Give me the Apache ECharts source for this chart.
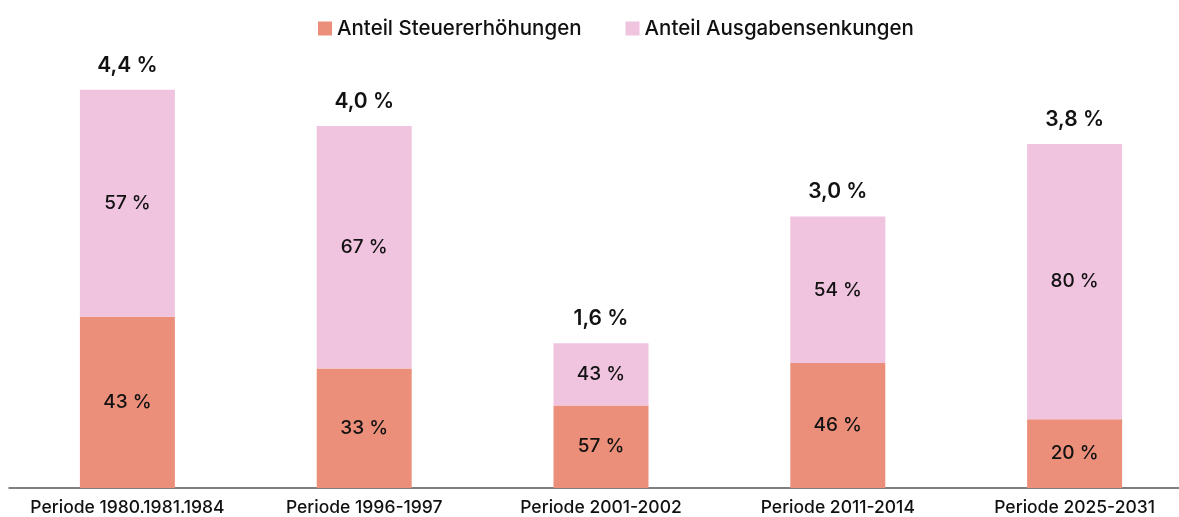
<!DOCTYPE html>
<html>
<head>
<meta charset="utf-8">
<script src="https://cdn.jsdelivr.net/npm/echarts@6/dist/echarts.min.js"></script>
<style>
  html, body { margin: 0; padding: 0; background: #fff; overflow: hidden; }
  /* etwas breiter als das Fenster, damit die Kategorien wie im Original verteilt sind */
  #main { width: 1193px; height: 517px; }
</style>
</head>
<body>
<div id="main"></div>
<script>
// Zeiträume und Werte
var perioden = ['Periode 1980.1981.1984', 'Periode 1996-1997', 'Periode 2001-2002', 'Periode 2011-2014', 'Periode 2025-2031']
var gesamt = [4.4, 4.0, 1.6, 3.0, 3.8]          // Konsolidierung insgesamt (%)
var anteilSteuer = [43, 33, 57, 46, 20]          // Anteil Steuererhöhungen (%)
var anteilAusgaben = [57, 67, 43, 54, 80]        // Anteil Ausgabensenkungen (%)

var font = 'Inter, "Noto Sans", sans-serif'

// Segmenthöhen = Gesamt x Anteil
var steuerData = perioden.map(function (p, i) {
  return { value: gesamt[i] * anteilSteuer[i] / 100, anteil: anteilSteuer[i] }
})
var ausgabenData = perioden.map(function (p, i) {
  return { value: gesamt[i] * anteilAusgaben[i] / 100, anteil: anteilAusgaben[i] }
})
var totalData = perioden.map(function (p, i) {
  return { value: 0, total: gesamt[i] }
})

var innerLabel = {
  show: true,
  position: 'inside',
  color: '#111',
  fontFamily: font,
  fontSize: 19,
  fontWeight: 500,
  formatter: function (p) { return p.data.anteil + ' %' }
}

var option = {
  animation: false,
  legend: {
    data: ['Anteil Steuererhöhungen', 'Anteil Ausgabensenkungen'],
    top: 13,
    left: 313,
    itemWidth: 14,
    itemHeight: 14,
    itemGap: 44,
    icon: 'rect',
    textStyle: { fontFamily: font, fontSize: 20.5, fontWeight: 500, color: '#111', padding: [0, 0, 0, 0] }
  },
  grid: { left: 9, right: 0, top: 35.5, bottom: 27 },
  xAxis: {
    type: 'category',
    data: perioden,
    axisLine: { lineStyle: { color: '#555', width: 1.5 } },
    axisTick: { show: false },
    axisLabel: { color: '#111', fontFamily: font, fontSize: 17.5, fontWeight: 500, margin: 11, interval: 0 }
  },
  yAxis: {
    type: 'value',
    min: 0,
    max: 5,
    show: false,
    splitLine: { show: false }
  },
  series: [
    {
      name: 'Anteil Steuererhöhungen',
      type: 'bar',
      stack: 'k',
      barWidth: 95,
      data: steuerData,
      itemStyle: { color: '#EC8F7A' },
      label: innerLabel
    },
    {
      name: 'Anteil Ausgabensenkungen',
      type: 'bar',
      stack: 'k',
      barWidth: 95,
      data: ausgabenData,
      itemStyle: { color: '#F0C3DF' },
      label: innerLabel
    },
    {
      name: 'Gesamt',
      type: 'bar',
      stack: 'k',
      barWidth: 95,
      data: totalData,
      itemStyle: { color: 'transparent' },
      label: {
        show: true,
        position: 'top',
        distance: 14,
        color: '#111',
        fontFamily: font,
        fontSize: 21,
        fontWeight: 600,
        formatter: function (p) { return p.data.total.toFixed(1).replace('.', ',') + ' %' }
      }
    }
  ]
}

var myChart = echarts.init(document.getElementById('main'))
myChart.setOption(option)
</script>
</body>
</html>
